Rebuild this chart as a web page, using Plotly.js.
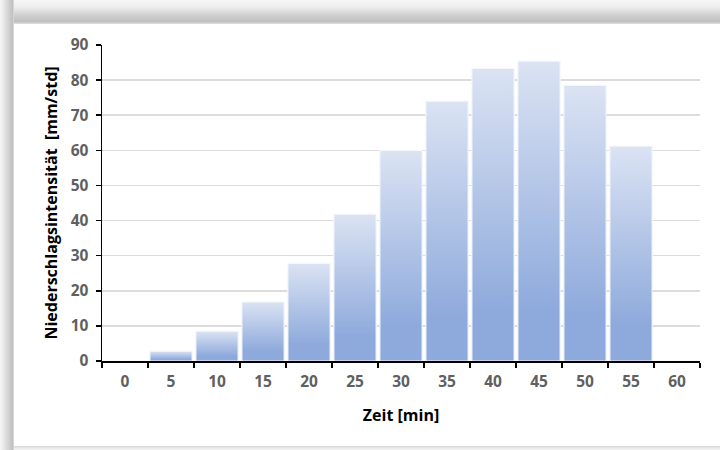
<!DOCTYPE html>
<html>
<head>
<meta charset="utf-8">
<script src="https://cdn.plot.ly/plotly-3.0.1.min.js"></script>
<style>
  html, body { margin: 0; padding: 0; background: #ffffff; width: 720px; height: 450px; overflow: hidden; position: relative; }
  .edge { position: absolute; }
  #edgeTop {
    left: 0; top: 0; width: 720px; height: 24px;
    background: linear-gradient(to bottom, #f7f7f7 0%, #ededed 30%, #d2d2d2 60%, #c0c0c0 90%, #e2e2e2 100%);
  }
  #edgeLeft {
    left: 0; top: 0; width: 14px; height: 450px;
    background: linear-gradient(to right, #f7f7f7 0%, #e6e6e6 30%, #d2d2d2 60%, #c0c0c0 90%, #e2e2e2 100%);
  }
  #edgeBottom {
    left: 14px; top: 446px; width: 706px; height: 4px;
    background: linear-gradient(to bottom, #d6d6d6 0%, #e8e8e8 50%, #f4f4f4 100%);
  }
  #chart {
    position: absolute; left: 14px; top: 24px; width: 706px; height: 422px;
    background: #ffffff;
  }
</style>
</head>
<body>
<div class="edge" id="edgeTop"></div>
<div class="edge" id="edgeLeft"></div>
<div class="edge" id="edgeBottom"></div>
<div id="chart"></div>
<script>
// Rain intensity per 5-minute interval
const zeit = ['0', '5', '10', '15', '20', '25', '30', '35', '40', '45', '50', '55', '60'];
const intensitaet = [0, 2.8, 8.5, 16.8, 27.8, 41.8, 60, 74, 83.3, 85.4, 78.5, 61.2, 0];
const yTicks = [0, 10, 20, 30, 40, 50, 60, 70, 80, 90];

const fam = 'Open Sans, Noto Sans, sans-serif';
const tickFont = { family: fam, size: 15.5, color: '#606060', weight: 'bold' };

const trace = {
  type: 'bar',
  x: zeit,
  y: intensitaet,
  marker: { color: '#8faadc', line: { color: '#f4f7fc', width: 1.2 } },
  hoverinfo: 'none'
};

const layout = {
  width: 706, height: 422,
  margin: { l: 88, r: 20, t: 21, b: 85 },
  paper_bgcolor: 'rgba(0,0,0,0)',
  plot_bgcolor: 'rgba(0,0,0,0)',
  bargap: 0.08,
  showlegend: false,
  xaxis: {
    type: 'category',
    tickson: 'boundaries',
    ticks: 'outside', ticklen: 5, tickwidth: 1.5, tickcolor: '#000000',
    showline: true, linecolor: '#000000', linewidth: 1.5,
    showgrid: false,
    tickfont: tickFont,
    ticklabelstandoff: 6,
    title: { text: 'Zeit [min]', font: { family: fam, size: 16, color: '#000000', weight: 'bold' }, standoff: 18 }
  },
  yaxis: {
    range: [0, 90],
    tickvals: yTicks,
    ticks: 'outside', ticklen: 5, tickwidth: 1.5, tickcolor: '#000000',
    showline: true, linecolor: '#000000', linewidth: 1.5,
    showgrid: true, gridcolor: '#dcdcdc', gridwidth: 1.5,
    zeroline: false,
    tickfont: tickFont,
    ticklabelstandoff: 4,
    title: { text: 'Niederschlagsintensität  [mm/std]', font: { family: fam, size: 16, color: '#000000', weight: 'bold' }, standoff: 9 }
  }
};

Plotly.newPlot('chart', [trace], layout, { displayModeBar: false, staticPlot: true }).then(function (gd) {
  // vertical fill gradient for each bar: light at the top, full blue near the base
  const svg = gd.querySelector('.main-svg');
  const ns = 'http://www.w3.org/2000/svg';
  let defs = svg.querySelector('defs');
  if (!defs) { defs = document.createElementNS(ns, 'defs'); svg.insertBefore(defs, svg.firstChild); }
  const grad = document.createElementNS(ns, 'linearGradient');
  grad.setAttribute('id', 'barFade');
  grad.setAttribute('x1', '0'); grad.setAttribute('y1', '0');
  grad.setAttribute('x2', '0'); grad.setAttribute('y2', '1');
  [['0', '#dbe3f3'], ['0.83', '#8eaadc'], ['1', '#8eaadc']].forEach(function (s) {
    const st = document.createElementNS(ns, 'stop');
    st.setAttribute('offset', s[0]);
    st.setAttribute('stop-color', s[1]);
    grad.appendChild(st);
  });
  defs.appendChild(grad);
  gd.querySelectorAll('.bars .point path').forEach(function (p) {
    p.style.fill = 'url(#barFade)';
  });
});
</script>
</body>
</html>
